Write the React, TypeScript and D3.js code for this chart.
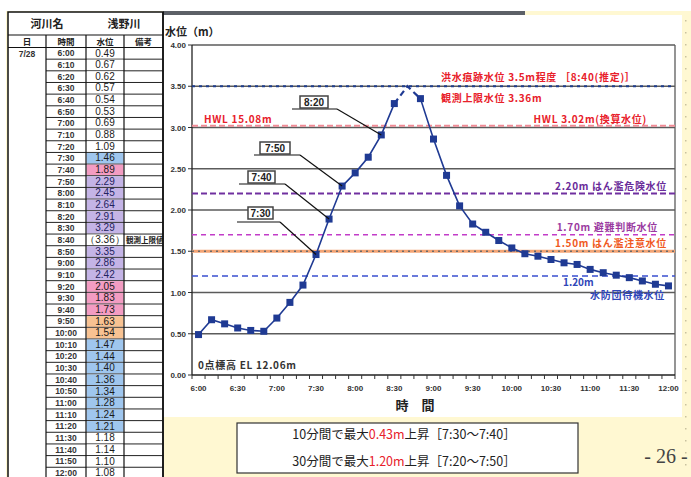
import React from "react";
import * as d3 from "d3";

// 観測時刻（10分毎）
const times = [
  "6:00", "6:10", "6:20", "6:30", "6:40", "6:50",
  "7:00", "7:10", "7:20", "7:30", "7:40", "7:50",
  "8:00", "8:10", "8:20", "8:30", "8:40", "8:50",
  "9:00", "9:10", "9:20", "9:30", "9:40", "9:50",
  "10:00", "10:10", "10:20", "10:30", "10:40", "10:50",
  "11:00", "11:10", "11:20", "11:30", "11:40", "11:50",
  "12:00",
];

// 観測水位 (m)。8:40 は観測上限超過のため欠測
const observed: (number | null)[] = [
  0.49, 0.67, 0.62, 0.57, 0.54, 0.53,
  0.69, 0.88, 1.09, 1.46, 1.89, 2.29,
  2.45, 2.64, 2.91, 3.29, null, 3.35,
  2.86, 2.42, 2.05, 1.83, 1.73, 1.63,
  1.54, 1.47, 1.44, 1.40, 1.36, 1.34,
  1.28, 1.24, 1.21, 1.18, 1.14, 1.10,
  1.08,
];

const peakTime = "8:40";
const peakEstimate = 3.5; // 洪水痕跡水位（推定）
const observedLimit = 3.36; // 観測上限水位

const yTicks = [0, 0.5, 1, 1.5, 2, 2.5, 3, 3.5, 4];
const xTickLabels = ["6:00", "6:30", "7:00", "7:30", "8:00", "8:30", "9:00", "9:30", "10:00", "10:30", "11:00", "11:30", "12:00"];

// 基準水位
const floodTrace = 3.5;
const hwl = 3.02;
const dangerLevel = 2.2;
const evacLevel = 1.7;
const cautionLevel = 1.5;
const standbyLevel = 1.2;

const calloutTimes = ["8:20", "7:50", "7:40", "7:30"];

const JP = "'Noto Sans CJK JP', 'Noto Sans', sans-serif";
const NUM = "'Liberation Sans', Arial, sans-serif";

const YELLOW = "#fff8d2";
const NAVY = "#1f3a93";
const RED = "#e8202a";

function cellFill(v: number | null) {
  if (v == null) return "#ffffff";
  if (v >= dangerLevel) return "#c4b4e6";
  if (v >= evacLevel) return "#f39cc2";
  if (v >= cautionLevel) return "#f8c292";
  if (v >= standbyLevel) return "#9fc6ee";
  return "#ffffff";
}

export default function App() {
  const W = 691;
  const H = 477;

  const x = d3.scaleBand<string>().domain(times).range([192, 675]).padding(0);
  const cx = (t: string) => (x(t) as number) + x.bandwidth() / 2;
  const y = d3.scaleLinear().domain([0, 4]).range([375, 45]);

  const series = times.map((t, i) => ({
    t,
    v: t === peakTime ? peakEstimate : (observed[i] as number),
  }));
  const peakIdx = times.indexOf(peakTime);
  const line = d3
    .line<{ t: string; v: number }>()
    .x((d) => cx(d.t))
    .y((d) => y(d.v));
  const solidA = line(series.slice(0, peakIdx)) || "";
  const dashed = line(series.slice(peakIdx - 1, peakIdx + 2)) || "";
  const solidB = line(series.slice(peakIdx + 1)) || "";

  // 吹き出しのレイアウト
  const calloutBoxes: Record<string, { bx: number; by: number; bw: number; ly: number; lx0: number; lx1: number }> = {
    "8:20": { bx: 300, by: 96, bw: 28, ly: 109, lx0: 292, lx1: 337 },
    "7:50": { bx: 260, by: 142, bw: 30, ly: 155, lx0: 254, lx1: 300 },
    "7:40": { bx: 248, by: 171, bw: 27, ly: 184, lx0: 239, lx1: 285 },
    "7:30": { bx: 248, by: 207, bw: 25, ly: 222, lx0: 237, lx1: 280 },
  };

  // 表のレイアウト
  const tX = [8, 46, 86, 124, 163];
  const rowTop = 47.5;
  const rowH = 11.66;

  const plotL = 192;
  const plotR = 675;

  return (
    <svg
      width={W}
      height={H}
      viewBox={`0 0 ${W} ${H}`}
      style={{ position: "absolute", left: 0, top: 0, background: "#fff" }}
    >
      <defs>
        <clipPath id="remarkClip">
          <rect x={tX[3]} y={0} width={tX[4] - tX[3]} height={H} />
        </clipPath>
      </defs>

      {/* 背景 */}
      <rect x={6} y={11} width={W - 6} height={H - 11} fill={YELLOW} />
      <rect x={163} y={11} width={362} height={4} fill="#5c6067" />
      <rect x={163} y={15} width={519} height={402} fill="#ffffff" />
      {d3.range(20, 470, 12).map((yy) => (
        <rect key={yy} x={685} y={yy} width={1.5} height={1.5} fill="#c9c2a0" />
      ))}

      {/* 水位表 */}
      <g>
        <rect x={tX[0]} y={12} width={tX[4] - tX[0]} height={H} fill="#fff" stroke="#111" strokeWidth={1.5} />
        <text x={47} y={28} fontFamily={JP} fontSize={11} fontWeight="bold" textAnchor="middle" fill="#222">河川名</text>
        <text x={124} y={28} fontFamily={JP} fontSize={11} fontWeight="bold" textAnchor="middle" fill="#222">浅野川</text>
        <line x1={tX[0]} x2={tX[4]} y1={35} y2={35} stroke="#111" strokeWidth={1.2} />
        <line x1={tX[0]} x2={tX[4]} y1={rowTop} y2={rowTop} stroke="#111" strokeWidth={1.2} />
        {["日", "時間", "水位", "備考"].map((h, i) => (
          <text key={h} x={(tX[i] + tX[i + 1]) / 2} y={44.5} fontFamily={JP} fontSize={8.5} fontWeight="bold" textAnchor="middle" fill="#222">{h}</text>
        ))}
        {times.map((t, i) => {
          const top = rowTop + i * rowH;
          const v = observed[i];
          return (
            <g key={t}>
              <rect x={tX[2] + 0.5} y={top + 0.5} width={tX[3] - tX[2] - 1} height={rowH - 1} fill={cellFill(v)} />
              <line x1={tX[1]} x2={tX[4]} y1={top + rowH} y2={top + rowH} stroke="#222" strokeWidth={1} />
              <text x={(tX[1] + tX[2]) / 2} y={top + 8.8} fontFamily={NUM} fontSize={8.5} fontWeight="bold" textAnchor="middle" fill="#333">{t}</text>
              <text x={(tX[2] + tX[3]) / 2} y={top + 9} fontFamily={NUM} fontSize={10} textAnchor="middle" fill={v != null && v >= dangerLevel ? "#23225e" : "#1a1a1a"}>
                {v == null ? `（${observedLimit.toFixed(2)}）` : v.toFixed(2)}
              </text>
              {v == null && (
                <text x={tX[3] + 2} y={top + 8.5} fontFamily={JP} fontSize={7.5} fontWeight="bold" fill="#222" clipPath="url(#remarkClip)">観測上限値</text>
              )}
            </g>
          );
        })}
        <text x={27} y={rowTop + 9} fontFamily={NUM} fontSize={8.5} fontWeight="bold" textAnchor="middle" fill="#333">7/28</text>
        {tX.slice(1, 4).map((xx) => (
          <line key={xx} x1={xx} x2={xx} y1={35} y2={H} stroke="#111" strokeWidth={1.2} />
        ))}
        <line x1={tX[4]} x2={tX[4]} y1={12} y2={H} stroke="#111" strokeWidth={1.5} />
      </g>

      {/* グラフ */}
      <text x={165} y={36} fontFamily={JP} fontSize={11} fontWeight="bold" fill="#222">水位（m）</text>

      {yTicks.map((v) => (
        <g key={v}>
          {v > 0 && <line x1={plotL} x2={plotR} y1={y(v)} y2={y(v)} stroke="#5b5b5b" strokeWidth={1.3} />}
          <line x1={plotL - 4} x2={plotL} y1={y(v)} y2={y(v)} stroke="#333" strokeWidth={1} />
          <text x={186} y={y(v) + 3} fontFamily={NUM} fontSize={8} fontWeight="bold" textAnchor="end" fill="#333">{v.toFixed(2)}</text>
        </g>
      ))}
      <line x1={plotR} x2={plotR} y1={y(4)} y2={y(0)} stroke="#5b5b5b" strokeWidth={1.3} />
      <line x1={plotL} x2={plotL} y1={y(4)} y2={y(0)} stroke="#222" strokeWidth={1.3} />
      <line x1={plotL} x2={plotR} y1={y(0)} y2={y(0)} stroke="#222" strokeWidth={1.3} />
      {times.map((t) => (
        <line key={t} x1={x(t) as number} x2={x(t) as number} y1={y(0)} y2={y(0) + 4} stroke="#333" strokeWidth={1} />
      ))}
      <line x1={plotR} x2={plotR} y1={y(0)} y2={y(0) + 4} stroke="#333" strokeWidth={1} />
      {xTickLabels.map((t) => (
        <text key={t} x={cx(t)} y={y(0) + 16} fontFamily={NUM} fontSize={8} fontWeight="bold" textAnchor="middle" fill="#333">{t}</text>
      ))}
      <text x={415} y={410} fontFamily={JP} fontSize={13} fontWeight="bold" textAnchor="middle" fill="#222">時　間</text>

      {/* 基準水位線 */}
      <line x1={plotL} x2={plotR} y1={y(cautionLevel)} y2={y(cautionLevel)} stroke="#f4a474" strokeWidth={3} />
      <line x1={plotL} x2={plotR} y1={y(cautionLevel)} y2={y(cautionLevel)} stroke="#6a6a6a" strokeWidth={1.4} strokeDasharray="2 4" />
      <line x1={plotL} x2={plotR} y1={y(standbyLevel)} y2={y(standbyLevel)} stroke="#3a4fcf" strokeWidth={1.3} strokeDasharray="6 4" />
      <line x1={plotL} x2={plotR} y1={y(evacLevel)} y2={y(evacLevel)} stroke="#c23cc8" strokeWidth={1.3} strokeDasharray="5 4" />
      <line x1={plotL} x2={plotR} y1={y(dangerLevel)} y2={y(dangerLevel)} stroke="#7030a0" strokeWidth={2} strokeDasharray="6 3" />
      <line x1={plotL} x2={plotR} y1={y(hwl)} y2={y(hwl)} stroke="#f08c96" strokeWidth={2} strokeDasharray="6 3" />
      <line x1={plotL} x2={plotR} y1={y(floodTrace)} y2={y(floodTrace)} stroke="#1d3c8c" strokeWidth={2} strokeDasharray="3 4" />

      <g fontFamily={JP} fontSize={10} fontWeight="bold" letterSpacing={0.7}>
        <text x={441} y={y(floodTrace) - 5} fill={RED}>洪水痕跡水位 {floodTrace}m程度 ［{peakTime}(推定)］</text>
        <text x={441} y={y(floodTrace) + 16} fill={RED}>観測上限水位 {observedLimit.toFixed(2)}m</text>
        <text x={204} y={y(hwl) - 3} fill={RED}>HWL 15.08m</text>
        <text x={647} y={y(hwl) - 3} fill={RED} textAnchor="end">HWL {hwl.toFixed(2)}m(換算水位)</text>
        <text x={667} y={y(dangerLevel) - 4} fill="#6a2c9a" textAnchor="end">{dangerLevel.toFixed(2)}m はん濫危険水位</text>
        <text x={658} y={y(evacLevel) - 4} fill="#9a3aa0" textAnchor="end">{evacLevel.toFixed(2)}m 避難判断水位</text>
        <text x={667} y={y(cautionLevel) - 4} fill="#f05a1e" textAnchor="end">{cautionLevel.toFixed(2)}m はん濫注意水位</text>
        <text x={563} y={y(standbyLevel) + 10} fill="#2f46b8" letterSpacing={0}>{standbyLevel.toFixed(2)}m</text>
        <text x={665} y={y(standbyLevel) + 23} fill="#2f46b8" textAnchor="end">水防団待機水位</text>
        <text x={198} y={369} fill="#333">0点標高 EL 12.06m</text>
      </g>

      {/* 水位の推移 */}
      <path d={solidA} fill="none" stroke={NAVY} strokeWidth={1.6} />
      <path d={solidB} fill="none" stroke={NAVY} strokeWidth={1.6} />
      <path d={dashed} fill="none" stroke={NAVY} strokeWidth={2.2} strokeDasharray="6 4" />
      {series.map((d) =>
        d.t === peakTime ? null : (
          <rect key={d.t} x={cx(d.t) - 3.5} y={y(d.v) - 3.5} width={7} height={7} fill={NAVY} />
        )
      )}

      {/* 吹き出し */}
      {calloutTimes.map((t) => {
        const c = calloutBoxes[t];
        const v = series[times.indexOf(t)].v;
        return (
          <g key={t}>
            <line x1={c.lx0} x2={c.lx1} y1={c.ly} y2={c.ly} stroke="#111" strokeWidth={1.2} />
            <line x1={c.lx1} x2={cx(t)} y1={c.ly} y2={y(v)} stroke="#111" strokeWidth={1.2} />
            <rect x={c.bx} y={c.by} width={c.bw} height={12} fill="#fff" stroke="#444" strokeWidth={1.5} />
            <text x={c.bx + c.bw / 2} y={c.by + 9.5} fontFamily={NUM} fontSize={10} fontWeight="bold" textAnchor="middle" fill="#222">{t}</text>
          </g>
        );
      })}

      {/* 上昇量 */}
      <rect x={237} y={423} width={341} height={50} fill="#fff" stroke="#333" strokeWidth={1.2} />
      <g fontFamily={JP} fontSize={12.5} textAnchor="middle" fill="#222">
        <text x={404} y={439}>
          10分間で最大<tspan fill={RED}>0.43m</tspan>上昇［7:30～7:40］
        </text>
        <text x={404} y={466}>
          30分間で最大<tspan fill={RED}>1.20m</tspan>上昇［7:20～7:50］
        </text>
      </g>

      <text x={666} y={463} fontFamily="'Liberation Serif', 'DejaVu Serif', serif" fontSize={20} textAnchor="middle" fill="#444">- 26 -</text>
    </svg>
  );
}
